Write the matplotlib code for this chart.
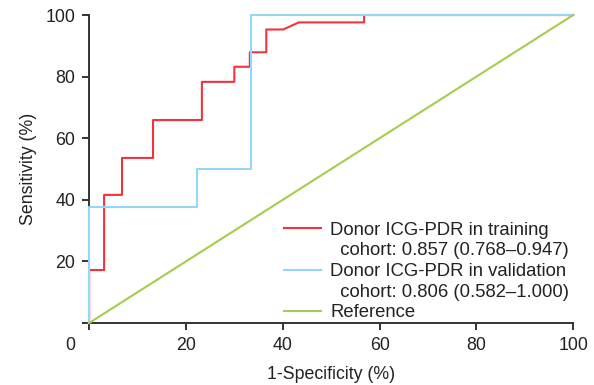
import matplotlib
matplotlib.use("Agg")
import matplotlib.pyplot as plt
from matplotlib.lines import Line2D
from matplotlib.transforms import ScaledTranslation

# ROC curves: 1-specificity (%) vs sensitivity (%)
train_fpr = [0, 0, 3.1, 3.1, 6.8, 6.8, 13.2, 13.2, 23.3, 23.3, 30.0, 30.0,
             33.2, 33.2, 36.6, 36.6, 40.1, 43.3, 56.8, 56.8, 100]
train_tpr = [0, 17.2, 17.2, 41.6, 41.6, 53.6, 53.6, 65.9, 65.9, 78.3, 78.3, 83.2,
             83.2, 87.9, 87.9, 95.3, 95.3, 97.6, 97.6, 100, 100]

valid_fpr = [0, 0, 22.2, 22.2, 33.5, 33.5, 100]
valid_tpr = [0, 37.8, 37.8, 50.0, 50.0, 100, 100]

ref_x = [0, 100]
ref_y = [0, 100]

train_label = "Donor ICG-PDR in training"
train_auc = "  cohort: 0.857 (0.768\u20130.947)"
valid_label = "Donor ICG-PDR in validation"
valid_auc = "  cohort: 0.806 (0.582\u20131.000)"
ref_label = "Reference"

ticks = [0, 20, 40, 60, 80, 100]

plt.rcParams['font.family'] = ['Liberation Sans', 'DejaVu Sans']
text_color = '#222222'
fs = 12.8
leg_fs = 13.3

fig = plt.figure(figsize=(5.94, 3.85), dpi=100)
ax = fig.add_axes([0.150, 0.161, 0.815, 0.800])

red = '#f2323c'
blue = '#92d8f6'
green = '#a6cc4c'

l1, = ax.plot(train_fpr, train_tpr, color=red, lw=1.5, zorder=3, clip_on=False)
l2, = ax.plot(valid_fpr, valid_tpr, color=blue, lw=1.5, zorder=4, clip_on=False)
l3, = ax.plot(ref_x, ref_y, color=green, lw=1.5, zorder=5, clip_on=False)

ax.set_xlim(0, 100)
ax.set_ylim(0, 100)
ax.set_xticks(ticks)
ax.set_yticks(ticks)
ax.set_xticklabels([str(t) for t in ticks])
ax.set_yticklabels([''] + [str(t) for t in ticks[1:]])

for side in ('top', 'right'):
    ax.spines[side].set_visible(False)
for side in ('left', 'bottom'):
    ax.spines[side].set_color('#333333')
    ax.spines[side].set_linewidth(1.4)

ax.tick_params(direction='out', length=5, width=1.4, color='#333333',
               labelsize=fs, labelcolor=text_color, pad=5)

# shared origin label sits to the lower left of the corner
lab0 = ax.get_xticklabels()[0]
lab0.set_transform(lab0.get_transform() + ScaledTranslation(-0.19, 0, fig.dpi_scale_trans))

ax.set_xlabel("1-Specificity (%)", fontsize=fs, color=text_color, labelpad=9)
ax.set_ylabel("Sensitivity (%)", fontsize=fs, color=text_color, labelpad=6)

blank = Line2D([], [], color='none')
leg = ax.legend([l1, blank, l2, blank, l3],
                [train_label, train_auc, valid_label, valid_auc, ref_label],
                loc='lower left', bbox_to_anchor=(0.403, 0.005),
                frameon=False, fontsize=leg_fs, handlelength=2.0, handletextpad=0.5,
                labelspacing=0.2, borderaxespad=0, borderpad=0)
for t in leg.get_texts():
    t.set_color(text_color)

fig.savefig("out.png", dpi=100)
